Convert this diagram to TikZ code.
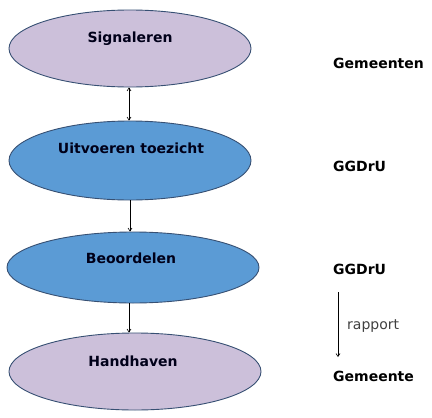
\documentclass[tikz,border=0pt]{standalone}
\usepackage{fontspec}
\setmainfont{DejaVu Sans}
\usetikzlibrary{shapes.geometric,arrows.meta}
\definecolor{lav}{RGB}{204,192,218}
\definecolor{blu}{RGB}{91,155,213}
\definecolor{edge}{RGB}{55,80,115}
\tikzset{
  ell/.style={ellipse, draw=edge, line width=0.9pt, inner sep=0pt},
  lbl/.style={font=\bfseries\fontsize{14}{16}\selectfont, inner sep=0pt, anchor=base west},
  etxt/.style={font=\bfseries\fontsize{14}{16}\selectfont, inner sep=0pt, anchor=base, text=black!90!blue},
  arr/.style={-{Straight Barb[length=3pt,width=4pt]}, line width=0.6pt, black},
  darr/.style={{Straight Barb[length=3pt,width=4pt]}-{Straight Barb[length=3pt,width=4pt]}, line width=0.6pt, black}
}
\begin{document}
\begin{tikzpicture}[x=1pt,y=-1pt]
\useasboundingbox (0,0) rectangle (432,418);
\node[ell, fill=lav, minimum width=242pt, minimum height=77pt] (e1) at (130,48.5) {};
\node[ell, fill=blu, minimum width=242pt, minimum height=79pt] (e2) at (130,160.5) {};
\node[ell, fill=blu, minimum width=252pt, minimum height=71pt] (e3) at (133,267.5) {};
\node[ell, fill=lav, minimum width=252pt, minimum height=77pt] (e4) at (135,371.5) {};
\node[etxt] (t1) at (130,42) {Signaleren};
\node[etxt] (t2) at (131,153) {Uitvoeren toezicht};
\node[etxt] (t3) at (131,263) {Beoordelen};
\node[etxt] (t4) at (133,366) {Handhaven};
\draw[darr] (e1.south -| 129,0) -- (e2.north -| 129,0);
\draw[arr] (e2.south -| 130,0) -- (e3.north -| 130,0);
\draw[arr] (e3.south -| 129,0) -- (e4.north -| 129,0);
\node[lbl] (r1) at (333,68) {Gemeenten};
\node[lbl] (r2) at (333,171) {GGDrU};
\node[lbl] (r3) at (333,274) {GGDrU};
\node[lbl] (r4) at (333,381) {Gemeente};
\node[font=\fontsize{14}{16}\selectfont, inner sep=0pt, anchor=base west, text=black!75] (rp) at (347,329) {rapport};
\coordinate (a1) at (338,292);
\coordinate (a2) at (338,357);
\draw[arr] (a1) -- (a2);
\end{tikzpicture}
\end{document}
